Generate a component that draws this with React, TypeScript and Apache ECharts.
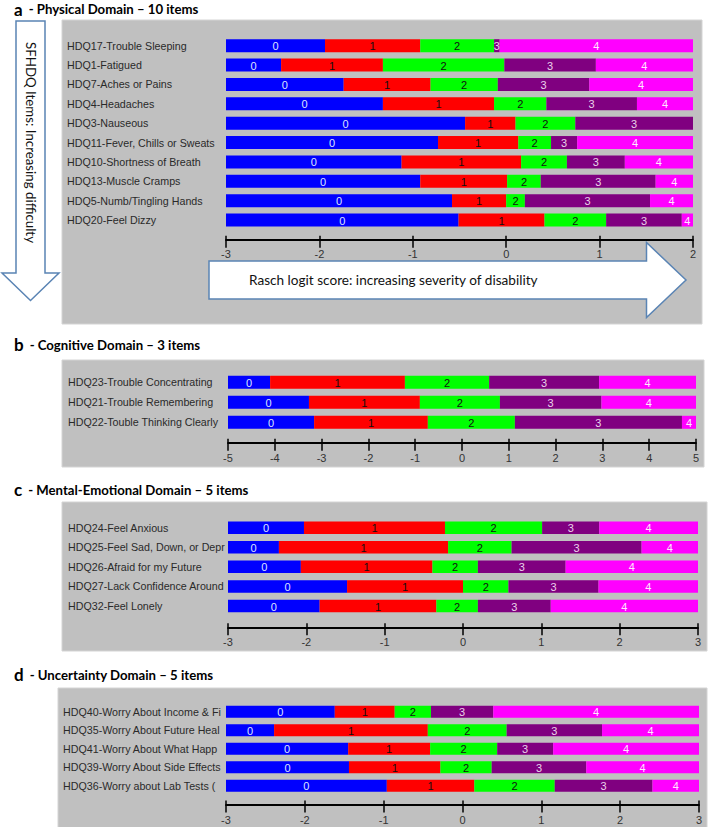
import React, { useEffect, useRef } from "react";
import * as echarts from "echarts";

// ---------- Panel a: Physical Domain ----------
const physicalItems = [
  "HDQ17-Trouble Sleeping",
  "HDQ1-Fatigued",
  "HDQ7-Aches or Pains",
  "HDQ4-Headaches",
  "HDQ3-Nauseous",
  "HDQ11-Fever, Chills or Sweats",
  "HDQ10-Shortness of Breath",
  "HDQ13-Muscle Cramps",
  "HDQ5-Numb/Tingling Hands",
  "HDQ20-Feel Dizzy",
];
const physicalT1 = [-1.94, -2.41, -1.74, -1.32, -0.44, -0.73, -1.12, -0.92, -0.58, -0.51];
const physicalT2 = [-0.92, -1.32, -0.81, -0.13, 0.1, 0.13, 0.16, 0.01, 0.0, 0.41];
const physicalT3 = [-0.13, -0.02, -0.09, 0.43, 0.74, 0.48, 0.65, 0.37, 0.2, 1.07];
const physicalT4 = [-0.07, 0.96, 0.89, 1.4, 2.0, 0.76, 1.27, 1.6, 1.54, 1.88];

// ---------- Panel b: Cognitive Domain ----------
const cognitiveItems = [
  "HDQ23-Trouble Concentrating",
  "HDQ21-Trouble Remembering",
  "HDQ22-Touble Thinking Clearly",
];
const cognitiveT1 = [-4.1, -3.27, -3.16];
const cognitiveT2 = [-1.22, -0.9, -0.73];
const cognitiveT3 = [0.58, 0.81, 1.13];
const cognitiveT4 = [2.93, 2.98, 4.7];

// ---------- Panel c: Mental-Emotional Domain ----------
const mentalItems = [
  "HDQ24-Feel Anxious",
  "HDQ25-Feel Sad, Down, or Depr",
  "HDQ26-Afraid for my Future",
  "HDQ27-Lack Confidence Around",
  "HDQ32-Feel Lonely",
];
const mentalT1 = [-2.03, -2.35, -2.07, -1.48, -1.83];
const mentalT2 = [-0.23, -0.19, -0.39, 0.0, -0.34];
const mentalT3 = [1.01, 0.62, 0.19, 0.58, 0.19];
const mentalT4 = [1.74, 2.28, 1.31, 1.73, 1.12];

// ---------- Panel d: Uncertainty Domain ----------
const uncertaintyItems = [
  "HDQ40-Worry About Income & Fi",
  "HDQ35-Worry About Future Heal",
  "HDQ41-Worry About What Happ",
  "HDQ39-Worry About Side Effects",
  "HDQ36-Worry about Lab Tests (",
];
const uncertaintyT1 = [-1.62, -2.39, -1.45, -1.44, -0.96];
const uncertaintyT2 = [-0.86, -0.44, -0.41, -0.28, 0.15];
const uncertaintyT3 = [-0.4, 0.56, 0.44, 0.37, 1.17];
const uncertaintyT4 = [0.39, 1.77, 1.15, 1.57, 2.41];

// axis ranges
const physicalRange = [-3, 2];
const cognitiveRange = [-5, 5];
const mentalRange = [-3, 3];
const uncertaintyRange = [-3, 3];

const panelTitles = [
  ["a", "- Physical Domain \u2013 10 items"],
  ["b", "- Cognitive Domain \u2013 3 items"],
  ["c", "- Mental-Emotional Domain \u2013 5 items"],
  ["d", "- Uncertainty Domain \u2013 5 items"],
];
const categoryLevels = ["0", "1", "2", "3", "4"];
const verticalArrowText = "SFHDQ Items: Increasing difficulty";
const horizontalArrowText = "Rasch logit score: increasing severity of disability";

const SEG_COLORS = ["#0000FF", "#FF0000", "#00FF00", "#800080", "#FF00FF"];
const SEG_TEXT = ["#dde3ff", "#111111", "#111111", "#ead2ea", "#ffe8ff"];
const ARROW = "#5a84b4";
const GRAY = "#C0C0C0";
const LABEL_FONT = "'Liberation Sans', Arial, sans-serif";
const TITLE_FONT = "Lato, 'Open Sans', sans-serif";

function buildSegments(t1: number[], t2: number[], t3: number[], t4: number[], range: number[]) {
  const out: number[][] = [];
  t1.forEach((_, i) => {
    const b = [range[0], t1[i], t2[i], t3[i], t4[i], range[1]];
    for (let l = 0; l < 5; l++) out.push([b[l], b[l + 1], i, l]);
  });
  return out;
}

const panels = [
  {
    items: physicalItems,
    segs: buildSegments(physicalT1, physicalT2, physicalT3, physicalT4, physicalRange),
    range: physicalRange,
    layout: { left: 226, width: 467, top: 36, height: 193.7, offset: 10, barH: 13, yMargin: 159, xMargin: 9 },
  },
  {
    items: cognitiveItems,
    segs: buildSegments(cognitiveT1, cognitiveT2, cognitiveT3, cognitiveT4, cognitiveRange),
    range: cognitiveRange,
    layout: { left: 228, width: 468, top: 372.3, height: 60, offset: 10.4, barH: 13, yMargin: 160, xMargin: 10 },
  },
  {
    items: mentalItems,
    segs: buildSegments(mentalT1, mentalT2, mentalT3, mentalT4, mentalRange),
    range: mentalRange,
    layout: { left: 228, width: 470, top: 517.9, height: 97.9, offset: 11.5, barH: 12.5, yMargin: 160, xMargin: 9 },
  },
  {
    items: uncertaintyItems,
    segs: buildSegments(uncertaintyT1, uncertaintyT2, uncertaintyT3, uncertaintyT4, uncertaintyRange),
    range: uncertaintyRange,
    layout: { left: 226, width: 473, top: 702.5, height: 92.5, offset: 9.4, barH: 12, yMargin: 163, xMargin: 10 },
  },
];

const grayBoxes = [
  [62, 20, 640, 304],
  [62, 360, 642, 107],
  [62, 502, 645, 149],
  [58, 688, 649, 145],
];
const titleY = [9, 344.5, 489.5, 674.5];

export default function App() {
  const ref = useRef<HTMLDivElement>(null);
  useEffect(() => {
    if (!ref.current) return;
    const chart = echarts.init(ref.current, undefined, { renderer: "svg" });

    const grid: any[] = [];
    const xAxis: any[] = [];
    const yAxis: any[] = [];
    const series: any[] = [];

    panels.forEach((p, pi) => {
      const L = p.layout;
      grid.push({ left: L.left, width: L.width, top: L.top, height: L.height, containLabel: false });
      xAxis.push({
        type: "value",
        gridIndex: pi,
        min: p.range[0],
        max: p.range[1],
        interval: 1,
        position: "bottom",
        offset: L.offset,
        splitLine: { show: false },
        axisLine: { show: true, lineStyle: { color: "#000", width: 2 } },
        axisTick: { show: true, length: 8, lineStyle: { color: "#000", width: 1.5 } },
        axisLabel: { fontSize: 11, color: "#333", margin: L.xMargin, fontFamily: LABEL_FONT },
      });
      xAxis.push({
        type: "value",
        gridIndex: pi,
        min: p.range[0],
        max: p.range[1],
        interval: 1,
        position: "bottom",
        offset: L.offset,
        splitLine: { show: false },
        axisLine: { show: false },
        axisTick: { show: true, inside: true, length: 4, lineStyle: { color: "#000", width: 1.5 } },
        axisLabel: { show: false },
      });
      yAxis.push({
        type: "category",
        gridIndex: pi,
        data: p.items,
        inverse: true,
        axisLine: { show: false },
        axisTick: { show: false },
        splitLine: { show: false },
        axisLabel: {
          align: "left",
          margin: L.yMargin,
          fontSize: 10.7,
          color: "#2a2a2a",
          fontFamily: LABEL_FONT,
          width: L.yMargin - 0.5,
          overflow: "truncate",
          ellipsis: "",
        },
      });
      const barH = L.barH;
      series.push({
        type: "custom",
        xAxisIndex: pi * 2,
        yAxisIndex: pi,
        data: p.segs,
        encode: { x: [0, 1], y: 2 },
        renderItem: (params: any, api: any) => {
          const s = api.coord([api.value(0), api.value(2)]);
          const e = api.coord([api.value(1), api.value(2)]);
          const lvl = api.value(3);
          const w = e[0] - s[0];
          const children: any[] = [
            {
              type: "rect",
              shape: { x: s[0], y: s[1] - barH / 2, width: w, height: barH },
              style: { fill: SEG_COLORS[lvl], stroke: null },
            },
          ];
          if (w >= 4) {
            children.push({
              type: "text",
              style: {
                text: categoryLevels[lvl],
                x: s[0] + w / 2,
                y: s[1] + 0.5,
                align: "center",
                verticalAlign: "middle",
                textAlign: "center",
                textVerticalAlign: "middle",
                fill: SEG_TEXT[lvl],
                font: `11px ${LABEL_FONT}`,
              },
            });
          }
          return { type: "group", children };
        },
      });
    });

    const graphic: any[] = [];
    grayBoxes.forEach((b) => {
      graphic.push({
        type: "rect",
        z: -10,
        shape: { x: b[0], y: b[1], width: b[2], height: b[3] },
        style: { fill: GRAY, stroke: "#d4d4d4", lineWidth: 1 },
      });
    });
    panelTitles.forEach((t, i) => {
      graphic.push({
        type: "text",
        x: 14,
        y: titleY[i],
        style: {
          text: `{l|${t[0]}}{r|${t[1]}}`,
          verticalAlign: "middle",
          textVerticalAlign: "middle",
          rich: {
            l: { fontSize: 17, fontWeight: "bold", fontFamily: TITLE_FONT, fill: "#000", color: "#000", padding: [0, 6, 0, 0] },
            r: { fontSize: 13.2, fontWeight: "bold", fontFamily: TITLE_FONT, fill: "#000", color: "#000" },
          },
        },
      });
    });
    // vertical (down) arrow
    graphic.push({
      type: "polygon",
      z: 5,
      shape: {
        points: [
          [16, 21],
          [45, 21],
          [45, 273],
          [59, 273],
          [30.5, 300.5],
          [2, 273],
          [16, 273],
        ],
      },
      style: { fill: "#fff", stroke: ARROW, lineWidth: 1.5 },
    });
    graphic.push({
      type: "text",
      z: 6,
      x: 31,
      y: 142.5,
      rotation: -Math.PI / 2,
      style: {
        text: verticalArrowText,
        align: "center",
        verticalAlign: "middle",
        textAlign: "center",
        textVerticalAlign: "middle",
        font: `13.3px ${TITLE_FONT}`,
        fill: "#111",
      },
    });
    // horizontal (right) arrow
    graphic.push({
      type: "polygon",
      z: 5,
      shape: {
        points: [
          [209, 261],
          [646.5, 261],
          [646.5, 242.5],
          [686, 280],
          [646.5, 317.5],
          [646.5, 299],
          [209, 299],
        ],
      },
      style: { fill: "#fff", stroke: ARROW, lineWidth: 1.5 },
    });
    graphic.push({
      type: "text",
      z: 6,
      x: 249,
      y: 279.5,
      style: {
        text: horizontalArrowText,
        align: "left",
        verticalAlign: "middle",
        textAlign: "left",
        textVerticalAlign: "middle",
        font: `13.6px ${TITLE_FONT}`,
        fill: "#111",
      },
    });

    chart.setOption({
      animation: false,
      backgroundColor: "#fff",
      grid,
      xAxis,
      yAxis,
      series,
      graphic: { elements: graphic },
    });
    return () => chart.dispose();
  }, []);

  return (
    <div
      ref={ref}
      style={{ position: "fixed", left: 0, top: 0, width: 710, height: 827 }}
    />
  );
}
